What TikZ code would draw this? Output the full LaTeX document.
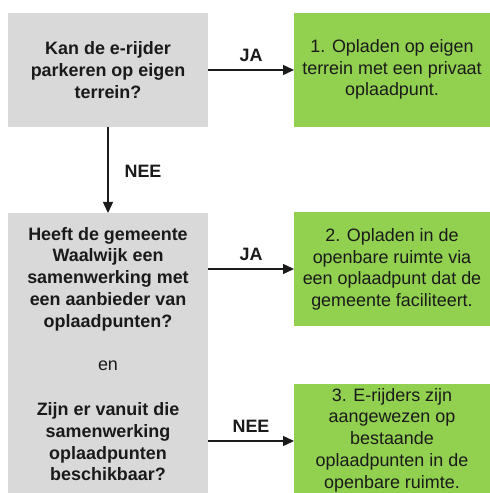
\documentclass[tikz,border=0pt]{standalone}
\usepackage{fontspec}
\setmainfont{Liberation Sans}
\usetikzlibrary{arrows.meta}
\definecolor{boxgray}{HTML}{D9D9D9}
\definecolor{boxgreen}{HTML}{92D050}
\definecolor{txt}{HTML}{1A1A1A}
\begin{document}
\begin{tikzpicture}[x=1bp,y=-1bp,
  base/.style={inner sep=0pt, outer sep=0pt, text=txt, align=center},
  graybox/.style={base, fill=boxgray, minimum width=200bp},
  greenbox/.style={base, fill=boxgreen, minimum width=196bp},
  qtext/.style={base, font=\fontsize{18}{21.8}\selectfont\bfseries},
  atext/.style={base, font=\fontsize{18}{21.8}\selectfont},
  lbl/.style={base, font=\fontsize{18}{20}\selectfont\bfseries},
  conn/.style={-{Triangle[length=11bp,width=10bp]}, line width=1.3bp, draw=txt}
]
\useasboundingbox (0,0) rectangle (490,493);
% boxes
\node[graybox, minimum height=114bp] (q1) at (108,70) {};
\node[greenbox, minimum height=114bp] (a1) at (392,70) {};
\node[graybox, minimum height=280bp] (q2) at (108,353) {};
\node[greenbox, minimum height=114bp] (a2) at (392,269) {};
\node[greenbox, minimum height=109bp] (a3) at (392,438.5) {};
% texts
\node[qtext] (q1t) at (108,70) {Kan de e-rijder\\parkeren op eigen\\terrein?};
\node[atext] (a1t) at (392,69.5) {1. Opladen op eigen\\terrein met een privaat\\oplaadpunt.};
\node[qtext] (q2t) at (108,279) {Heeft de gemeente\\Waalwijk een\\samenwerking met\\een aanbieder van\\oplaadpunten?};
\node[atext] (en) at (108,366) {en};
\node[qtext] (q3t) at (108,442) {Zijn er vanuit die\\samenwerking\\oplaadpunten\\beschikbaar?};
\node[atext] (a2t) at (392,269.5) {2. Opladen in de\\openbare ruimte via\\een oplaadpunt dat de\\gemeente faciliteert.};
\node[atext] (a3t) at (392,440) {3. E-rijders zijn\\aangewezen op\\bestaande\\oplaadpunten in de\\openbare ruimte.};
% connectors
\coordinate (a3in) at (294,441);
\draw[conn] (q1.east) -- (a1.west) node[midway, lbl, yshift=15bp] (ja1) {JA};
\draw[conn] (q1.south) -- (q2.north) node[midway, lbl, xshift=35bp, yshift=-1bp] (nee1) {NEE};
\draw[conn] (q2.east |- a2.west) -- (a2.west) node[midway, lbl, yshift=15bp] (ja2) {JA};
\draw[conn] (q2.east |- a3in) -- (a3in) node[midway, lbl, yshift=15bp] (nee2) {NEE};
\end{tikzpicture}
\end{document}
